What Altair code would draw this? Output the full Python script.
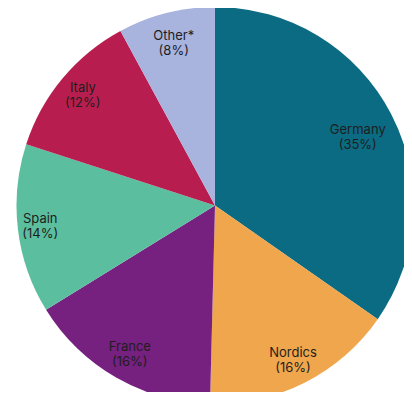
import altair as alt
import pandas as pd

categories = ["Germany", "Nordics", "France", "Spain", "Italy", "Other*"]
shares = [34.7, 15.7, 15.8, 13.8, 12.1, 7.9]
pct_labels = ["(35%)", "(16%)", "(16%)", "(14%)", "(12%)", "(8%)"]
colors = ["#0a6b83", "#f0a64c", "#76207f", "#5bbf9f", "#b71e4f", "#a8b3de"]

df = pd.DataFrame({
    "name": categories,
    "share": shares,
    "pct": pct_labels,
    "idx": list(range(len(categories))),
})

label_radius = ("{'Germany': 161, 'Nordics': 173, 'France': 171, "
                "'Spain': 176, 'Italy': 172, 'Other*': 168}[datum.name]")

base = alt.Chart(df).transform_window(
    cum="sum(share)", sort=[alt.SortField("idx", order="ascending")]
).transform_joinaggregate(
    total="sum(share)"
).transform_calculate(
    t0="(datum.cum - datum.share) / datum.total * 2 * PI",
    t1="datum.cum / datum.total * 2 * PI",
    tm="(datum.cum - datum.share / 2) / datum.total * 2 * PI",
    label="[datum.name, datum.pct]",
    rad=label_radius,
)

arcs = base.mark_arc(radius=198.5).encode(
    theta=alt.Theta("t0:Q", scale=None),
    theta2="t1:Q",
    color=alt.Color("name:N", scale=alt.Scale(domain=categories, range=colors), legend=None),
)

text_style = dict(font="Inter", fontSize=13, color="#1e1e1e", lineHeight=15,
                  baseline="middle", align="center")
text_enc = dict(
    theta=alt.Theta("tm:Q", scale=None),
    radius=alt.Radius("rad:Q", scale=None),
    text=alt.Text("label:N"),
)

labels = base.transform_filter("datum.name != 'Germany'").mark_text(
    dy=-7, **text_style
).encode(**text_enc)

labels_de = base.transform_filter("datum.name == 'Germany'").mark_text(
    dy=-1.5, **text_style
).encode(**text_enc)

chart = alt.layer(arcs, labels, labels_de).encode(
    x=alt.value(207), y=alt.value(197.5)
).properties(
    width=396, height=384, padding=0, autosize=alt.AutoSizeParams(type="none")
).configure_view(stroke=None)

chart.save("out.html", embed_options={"renderer": "svg", "actions": False})
